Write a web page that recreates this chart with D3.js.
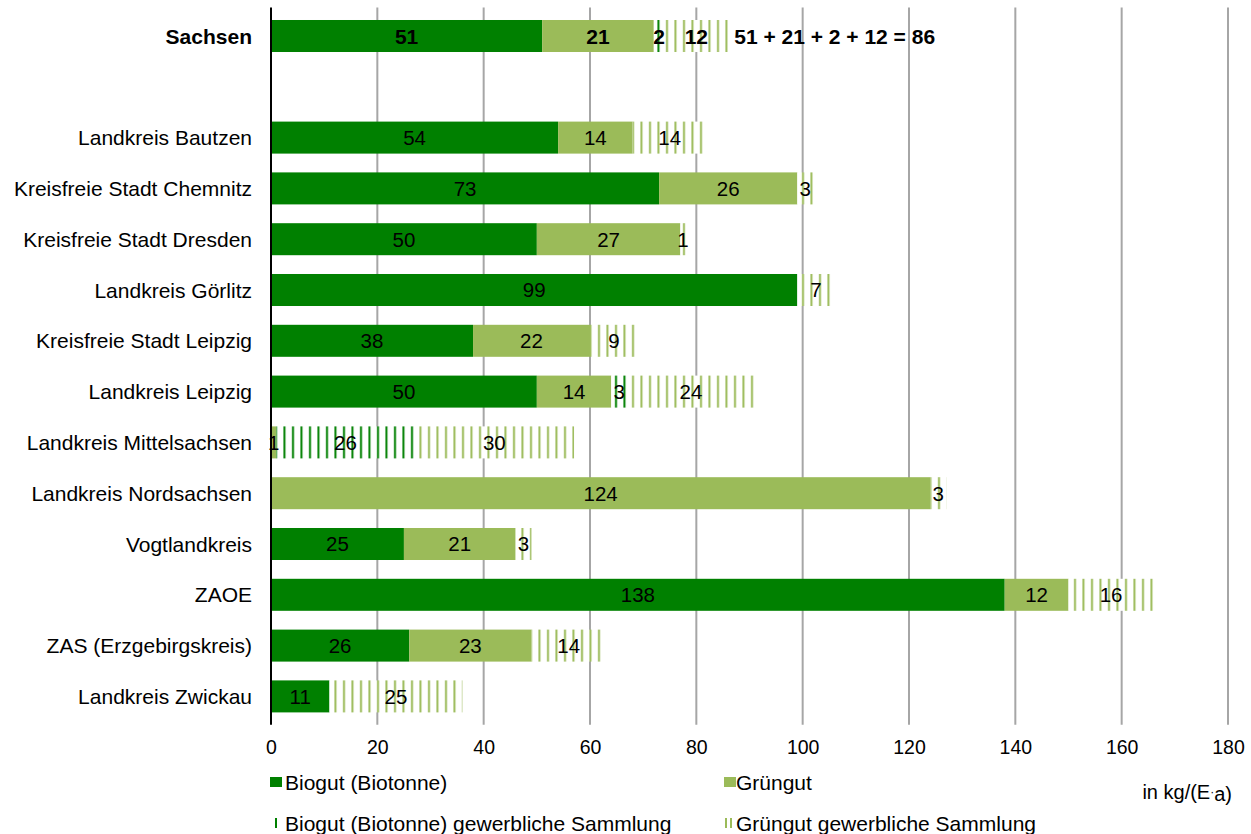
<!DOCTYPE html>
<html>
<head>
<meta charset="utf-8">
<script src="https://cdn.jsdelivr.net/npm/d3@7"></script>
<style>
  html, body { margin: 0; padding: 0; background: #fff; }
  svg { display: block; font-family: "Liberation Sans", Arial, sans-serif; }
</style>
</head>
<body>
<svg id="chart" width="1251" height="834"></svg>
<script>
// Regions (first row is the state total, second row is a spacer)
const categories = [
  "Sachsen", "",
  "Landkreis Bautzen", "Kreisfreie Stadt Chemnitz", "Kreisfreie Stadt Dresden",
  "Landkreis Görlitz", "Kreisfreie Stadt Leipzig", "Landkreis Leipzig",
  "Landkreis Mittelsachsen", "Landkreis Nordsachsen", "Vogtlandkreis",
  "ZAOE", "ZAS (Erzgebirgskreis)", "Landkreis Zwickau"
];
// Collected amounts in kg per inhabitant and year
const biogut          = [51, 0, 54, 73, 50, 99, 38, 50, 0, 0, 25, 138, 26, 11];
const gruengut        = [21, 0, 14, 26, 27, 0, 22, 14, 1, 124, 21, 12, 23, 0];
const biogutGewerbe   = [2, 0, 0, 0, 0, 0, 0, 3, 26, 0, 0, 0, 0, 0];
const gruengutGewerbe = [12, 0, 14, 3, 1, 7, 9, 24, 30, 3, 3, 16, 14, 25];
const xTicks = [0, 20, 40, 60, 80, 100, 120, 140, 160, 180];

const seriesNames = ["Biogut (Biotonne)", "Grüngut", "Biogut (Biotonne) gewerbliche Sammlung", "Grüngut gewerbliche Sammlung"];
const seriesValues = [biogut, gruengut, biogutGewerbe, gruengutGewerbe];
const darkGreen = "#008000", lightGreen = "#9bbb59";

const svg = d3.select("#chart");
const margin = { left: 271, top: 10.6 };
const plotW = 1228 - 271, plotH = 14 * 50.8;

const x = d3.scaleLinear().domain([0, 180]).range([0, plotW]);
const y = d3.scaleBand().domain(d3.range(categories.length)).range([0, plotH]).paddingInner(0.37).paddingOuter(0.185);

const defs = svg.append("defs");
function hatch(id, color) {
  const p = defs.append("pattern").attr("id", id)
    .attr("patternUnits", "userSpaceOnUse").attr("width", 8.5).attr("height", 10);
  p.append("rect").attr("width", 8.5).attr("height", 10).attr("fill", "#fff");
  p.append("rect").attr("x", 4).attr("width", 2).attr("height", 10).attr("fill", color);
}
hatch("hatchDark", darkGreen);
hatch("hatchLight", lightGreen);
const fills = [darkGreen, lightGreen, "url(#hatchDark)", "url(#hatchLight)"];

const g = svg.append("g").attr("transform", `translate(${margin.left},${margin.top})`);

// vertical gridlines
g.append("g").selectAll("line").data(xTicks.filter(d => d > 0)).join("line")
  .attr("x1", d => x(d)).attr("x2", d => x(d))
  .attr("y1", -3).attr("y2", plotH + 3)
  .attr("stroke", "#a6a6a6").attr("stroke-width", 2);

// stacked segments
const stackData = categories.map((c, i) => {
  let acc = 0;
  return seriesValues.map((vals, s) => {
    const v = vals[i];
    const seg = { row: i, s, v, x0: acc, x1: acc + v };
    acc += v;
    return seg;
  });
});
const segs = stackData.flat().filter(d => d.v > 0);

g.append("g").selectAll("rect").data(segs).join("rect")
  .attr("x", d => x(d.x0)).attr("width", d => x(d.x1) - x(d.x0))
  .attr("y", d => y(d.row)).attr("height", y.bandwidth())
  .attr("fill", d => fills[d.s]);

// value labels
g.append("g").selectAll("text").data(segs).join("text")
  .attr("x", d => x((d.x0 + d.x1) / 2))
  .attr("y", d => y(d.row) + y.bandwidth() / 2)
  .attr("dy", "0.36em")
  .attr("text-anchor", "middle")
  .attr("font-size", d => d.row === 0 ? 21 : 20.5)
  .attr("font-weight", d => d.row === 0 ? "bold" : "normal")
  .attr("fill", "#000")
  .text(d => d.v);

// state total annotation
const total0 = seriesValues.reduce((a, vals) => a + vals[0], 0);
g.append("text")
  .attr("x", x(total0) + 6)
  .attr("y", y(0) + y.bandwidth() / 2).attr("dy", "0.36em")
  .attr("font-size", 21).attr("font-weight", "bold")
  .text(seriesValues.map(v => v[0]).join(" + ") + " = " + total0);

// category axis (left)
g.append("line").attr("x1", 0).attr("x2", 0).attr("y1", -3).attr("y2", plotH + 3)
  .attr("stroke", "#000").attr("stroke-width", 2);
g.append("g").selectAll("text").data(categories.map((c, i) => ({ c, i }))).join("text")
  .attr("x", -19)
  .attr("y", d => y(d.i) + y.bandwidth() / 2).attr("dy", "0.36em")
  .attr("text-anchor", "end").attr("font-size", 21)
  .attr("font-weight", d => d.i === 0 ? "bold" : "normal")
  .text(d => d.c);

// value axis labels
const xAxis = g.append("g").attr("transform", `translate(0,${plotH})`)
  .call(d3.axisBottom(x).tickValues(xTicks).tickSize(0).tickPadding(18));
xAxis.select(".domain").remove();
xAxis.selectAll("text").attr("font-size", 19.5).attr("font-family", "Liberation Sans, Arial, sans-serif").attr("fill", "#000");

// legend
const legend = svg.append("g");
const legendPos = [[270, 782], [724, 782], [270, 823], [724, 823]];
seriesNames.forEach((name, s) => {
  const [lx, ly] = legendPos[s];
  const item = legend.append("g").attr("transform", `translate(${lx},${ly})`);
  if (s < 2) {
    item.append("rect").attr("x", 0).attr("y", -5).attr("width", 12).attr("height", 10).attr("fill", fills[s]);
  } else if (s === 2) {
    item.append("rect").attr("x", 5).attr("y", -5).attr("width", 2).attr("height", 10).attr("fill", darkGreen);
  } else {
    item.append("rect").attr("x", 1).attr("y", -5).attr("width", 2).attr("height", 10).attr("fill", lightGreen);
    item.append("rect").attr("x", 6).attr("y", -5).attr("width", 2).attr("height", 10).attr("fill", lightGreen);
  }
  item.append("text").attr("x", s === 0 || s === 2 ? 15 : 12).attr("y", 0).attr("dy", "0.36em")
    .attr("font-size", 21).text(name);
});

// unit label
svg.append("text").attr("x", 1232).attr("y", 792).attr("dy", "0.36em")
  .attr("text-anchor", "end").attr("font-size", 20)
  .html('in kg/(E<tspan font-size="12" dy="-0.25em">·</tspan><tspan dy="0.25em">a)</tspan>');
</script>
</body>
</html>
